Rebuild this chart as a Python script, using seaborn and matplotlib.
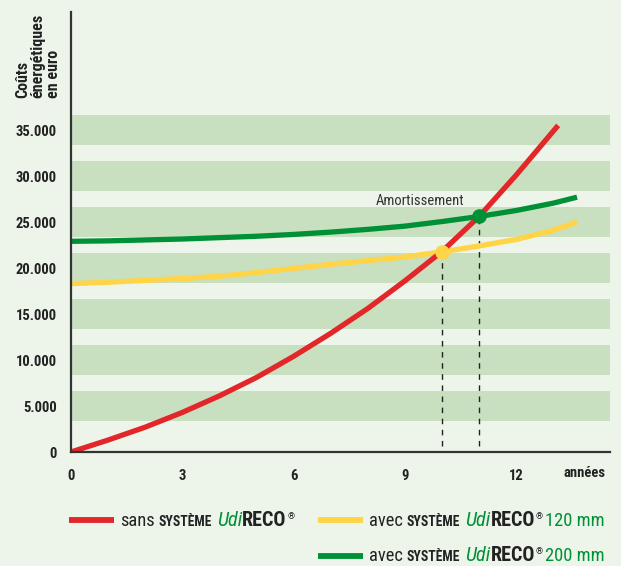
import matplotlib
matplotlib.use("Agg")
import matplotlib.pyplot as plt
import seaborn as sns
import pandas as pd
from matplotlib import font_manager

# ---------------- data ----------------
years_red = [0, 1, 2, 3, 4, 5, 6, 7, 8, 9, 10, 11, 12, 13.13]
cost_red = [0, 1300, 2700, 4300, 6100, 8100, 10400, 12900, 15600, 18600, 21800, 25600, 30100, 35500]

years_yellow = [0, 1, 2, 3, 4, 5, 6, 7, 8, 9, 10, 11, 12, 13, 13.64]
cost_yellow = [18300, 18450, 18650, 18850, 19100, 19500, 19950, 20400, 20800, 21200, 21750, 22400, 23100, 24100, 25000]

years_green = [0, 1, 2, 3, 4, 5, 6, 7, 8, 9, 10, 11, 12, 13, 13.64]
cost_green = [22900, 22950, 23050, 23150, 23300, 23450, 23650, 23900, 24200, 24550, 25050, 25600, 26250, 27050, 27700]

payback_years = [10, 11]
payback_costs = [21750, 25600]

x_ticks = [0, 3, 6, 9, 12]
y_ticks = [0, 5000, 10000, 15000, 20000, 25000, 30000, 35000]
y_tick_labels = ["0", "5.000", "10.000", "15.000", "20.000", "25.000", "30.000", "35.000"]

RED = "#E3262A"
YELLOW = "#FFD447"
GREEN = "#009036"
BG = "#EDF5EA"
BAND = "#C8DFC0"
DARK = "#222222"

# ---------------- fonts ----------------
names = {f.name for f in font_manager.fontManager.ttflist}
FONT = "DejaVu Sans"
for cand in ["Liberation Sans Narrow", "Roboto Condensed", "Open Sans Condensed", "Roboto"]:
    if cand in names:
        FONT = cand
        break

sns.set_theme(style="white")
plt.rcParams["font.family"] = [FONT, "DejaVu Sans"]

W, H = 621, 566
fig = plt.figure(figsize=(W / 100, H / 100), dpi=100, facecolor=BG)

x0, y0 = 71, 452
x1, ytop = 610, 12
ax = fig.add_axes([x0 / W, (H - y0) / H, (x1 - x0) / W, (y0 - ytop) / H])
ax.set_facecolor(BG)

px_per_year = 37.1
px_per_unit = 9.2 / 1000
ax.set_xlim(0, (x1 - x0) / px_per_year)
ax.set_ylim(0, (y0 - ytop) / px_per_unit)

# bands
for t in y_ticks[1:]:
    ax.axhspan(t - 1650, t + 1650, xmin=0, xmax=1, color=BAND, lw=0, zorder=0)

df_red = pd.DataFrame({"year": years_red, "cost": cost_red})
df_yel = pd.DataFrame({"year": years_yellow, "cost": cost_yellow})
df_grn = pd.DataFrame({"year": years_green, "cost": cost_green})

sns.lineplot(data=df_yel, x="year", y="cost", color=YELLOW, lw=3.8, ax=ax, sort=False,
             solid_capstyle="butt", solid_joinstyle="round", zorder=3)
sns.lineplot(data=df_grn, x="year", y="cost", color=GREEN, lw=3.8, ax=ax, sort=False,
             solid_capstyle="butt", solid_joinstyle="round", zorder=3)
sns.lineplot(data=df_red, x="year", y="cost", color=RED, lw=3.8, ax=ax, sort=False,
             solid_capstyle="butt", solid_joinstyle="round", zorder=4)

# payback markers and dashed drop lines
for yr, c, col in zip(payback_years, payback_costs, [YELLOW, GREEN]):
    ax.plot([yr, yr], [700, c], ls=(0, (4, 4)), color=DARK, lw=1.0, zorder=2)
    ax.scatter([yr], [c], s=110, color=col, zorder=6, linewidths=0)

ax.text(8.2, 27300, "Amortissement", fontsize=10.5, color="#333333", ha="left", va="center")

# axes styling
for s in ["top", "right"]:
    ax.spines[s].set_visible(False)
for s in ["left", "bottom"]:
    ax.spines[s].set_color("#333333")
    ax.spines[s].set_linewidth(1.6)
    ax.spines[s].set_zorder(7)

ax.set_xticks(x_ticks)
ax.set_xticklabels([str(v) for v in x_ticks], fontweight="bold", fontsize=10.5, color=DARK)
ax.set_yticks(y_ticks)
ax.set_yticklabels(y_tick_labels, fontweight="bold", fontsize=10.5, color=DARK)
ax.tick_params(axis="both", length=0)
ax.tick_params(axis="x", pad=12)
ax.tick_params(axis="y", pad=10)
ax.set_xlabel("")
ax.set_ylabel("")
ax.grid(False)

fig.text(584 / W, (H - 473) / H, "années", fontweight="bold", fontsize=10.5, color=DARK,
         ha="center", va="center")

fig.text(38 / W, (H - 98) / H, "Coûts\nénergétiques\nen euro", rotation=90,
         fontweight="bold", fontsize=11.5, color=DARK, ha="center", va="bottom",
         multialignment="left", linespacing=1.0)

# ---------------- legend ----------------
renderer = fig.canvas.get_renderer()


def draw_pieces(xpx, ypx, pieces):
    x = xpx
    for txt, kw, dy, gap in pieces:
        t = fig.text(x / W, (H - ypx + dy) / H, txt, ha="left", va="baseline", **kw)
        bb = t.get_window_extent(renderer=renderer)
        x = x + bb.width + gap


def legend_entry(lx, ly, color, tail, base_off):
    fig.add_artist(plt.Line2D([lx / W, (lx + 45) / W], [(H - ly) / H, (H - ly) / H],
                              color=color, lw=4.2, solid_capstyle="butt"))
    base = ly + base_off
    pieces = [
        (tail[0], dict(fontsize=13.3, color=DARK), 0, 4),
        ("SYSTÈME", dict(fontsize=9.8, fontweight="bold", color=DARK), 0, 5),
        ("Udi", dict(fontsize=14.5, style="italic", color=GREEN), 0, 0),
        ("RECO", dict(fontsize=14.5, fontweight="bold", color=DARK), 0, 1),
        ("®", dict(fontsize=6.5, color=DARK), 7, 2),
    ]
    if tail[1]:
        pieces.append((tail[1], dict(fontsize=13.3, color=GREEN), 0, 0))
    draw_pieces(lx + 51, base, pieces)


legend_entry(69, 520, RED, ("sans", ""), 6)
legend_entry(318, 520, YELLOW, ("avec", "120 mm"), 6)
legend_entry(318, 556, GREEN, ("avec", "200 mm"), 5)

fig.savefig("out.png", dpi=100, facecolor=BG)
